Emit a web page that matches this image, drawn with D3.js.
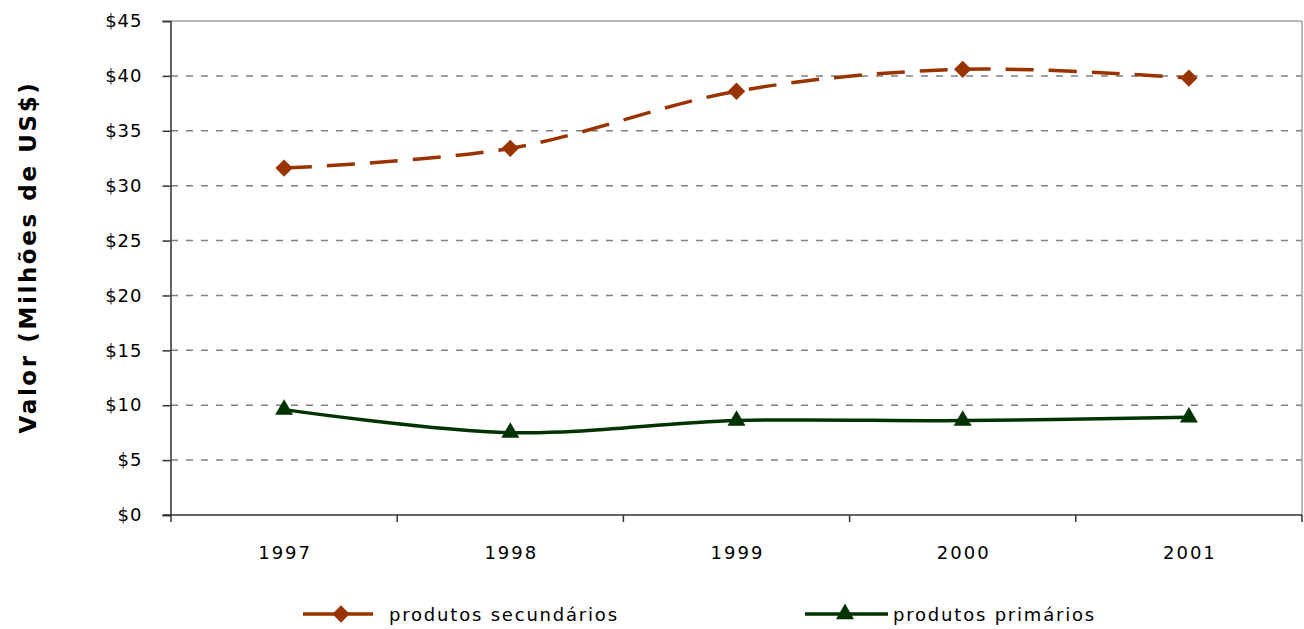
<!DOCTYPE html>
<html>
<head>
<meta charset="utf-8">
<script src="https://cdn.jsdelivr.net/npm/d3@7"></script>
<style>
  html, body { margin: 0; padding: 0; background: #fff; }
  svg { display: block; }
  text { font-family: "DejaVu Sans", sans-serif; fill: #000; }
</style>
</head>
<body>
<svg id="chart" width="1304" height="629"></svg>
<script>
const years = ["1997", "1998", "1999", "2000", "2001"];
const secundarios = [31.6, 33.4, 38.6, 40.6, 39.8];
const primarios = [9.6, 7.5, 8.6, 8.6, 8.9];
const yTicks = [0, 5, 10, 15, 20, 25, 30, 35, 40, 45];
const seriesNames = ["produtos secundários", "produtos primários"];
const yTitle = "Valor (Milhões de US$)";

(function () {
const svg = d3.select("#chart");
const pLeft = 171, pRight = 1302, pTop = 21, pBottom = 515;

const x = d3.scaleBand().domain(years).range([pLeft, pRight]).paddingInner(0).paddingOuter(0);
const y = d3.scaleLinear().domain([0, 45]).range([pBottom, pTop]);
const cx = d => x(d) + x.bandwidth() / 2;

// gridlines
svg.append("g").selectAll("line")
  .data(yTicks.filter(t => t > 0 && t < 45))
  .join("line")
  .attr("x1", pLeft).attr("x2", pRight)
  .attr("y1", d => y(d)).attr("y2", d => y(d))
  .attr("stroke", "#808080").attr("stroke-width", 1.5)
  .attr("stroke-dasharray", "7,8");

// top and right frame
svg.append("line").attr("x1", pLeft).attr("x2", pRight).attr("y1", y(45)).attr("y2", y(45))
  .attr("stroke", "#a0a0a0").attr("stroke-width", 1.5);
svg.append("line").attr("x1", pRight).attr("x2", pRight).attr("y1", pTop).attr("y2", pBottom)
  .attr("stroke", "#a0a0a0").attr("stroke-width", 1.5);

// y axis
const yAxis = d3.axisLeft(y).tickValues(yTicks).tickSize(8).tickPadding(20)
  .tickFormat(d => "$" + d);
const gy = svg.append("g").attr("transform", `translate(${pLeft - 0.5},0)`).call(yAxis);
gy.select(".domain").attr("stroke", "#333").attr("stroke-width", 1.5);
gy.selectAll(".tick line").attr("stroke", "#333").attr("stroke-width", 1.5);
gy.selectAll(".tick text").style("font-size", "18px").style("letter-spacing", "1px")
  .style("font-family", "DejaVu Sans").attr("fill", "#000");

// x axis
const xb = d3.scaleLinear().domain([0, years.length]).range([pLeft, pRight]);
svg.append("line").attr("x1", pLeft - 8).attr("x2", pRight).attr("y1", pBottom).attr("y2", pBottom)
  .attr("stroke", "#333").attr("stroke-width", 1.5);
svg.append("g").selectAll("line").data(d3.range(years.length + 1)).join("line")
  .attr("x1", d => xb(d)).attr("x2", d => xb(d))
  .attr("y1", pBottom).attr("y2", pBottom + 7)
  .attr("stroke", "#333").attr("stroke-width", 1.5);
svg.append("g").selectAll("text").data(years).join("text")
  .attr("x", d => cx(d) + 1).attr("y", 559)
  .attr("text-anchor", "middle")
  .style("font-size", "18px").style("letter-spacing", "2px")
  .text(d => d);

// y title
svg.append("text")
  .attr("transform", "translate(36,257) rotate(-90)")
  .attr("text-anchor", "middle")
  .style("font-size", "23px").style("font-weight", "bold").style("letter-spacing", "2.6px")
  .text(yTitle);

const line = d3.line().curve(d3.curveCardinal.tension(0))
  .x((d, i) => cx(years[i])).y(d => y(d));

const secColor = "#993300", priColor = "#003300";

svg.append("path").datum(secundarios).attr("d", line)
  .attr("fill", "none").attr("stroke", secColor).attr("stroke-width", 3.5)
  .attr("stroke-dasharray", "28,15");
svg.append("path").datum(primarios).attr("d", line)
  .attr("fill", "none").attr("stroke", priColor).attr("stroke-width", 3.5);

const diamond = d3.symbol().type(d3.symbolSquare).size(150);
svg.append("g").selectAll("path").data(secundarios).join("path")
  .attr("d", diamond())
  .attr("transform", (d, i) => `translate(${cx(years[i])},${y(d)}) rotate(45)`)
  .attr("fill", secColor);

const tri = d3.symbol().type(d3.symbolTriangle).size(140);
svg.append("g").selectAll("path").data(primarios).join("path")
  .attr("d", tri())
  .attr("transform", (d, i) => `translate(${cx(years[i])},${y(d)})`)
  .attr("fill", priColor);

// legend
const ly = 614;
const lg = svg.append("g");
lg.append("line").attr("x1", 303).attr("x2", 373).attr("y1", ly).attr("y2", ly)
  .attr("stroke", secColor).attr("stroke-width", 3.5);
lg.append("path").attr("d", diamond()).attr("transform", `translate(341,${ly}) rotate(45)`).attr("fill", secColor);
lg.append("text").attr("x", 389).attr("y", ly + 7).style("font-size", "18px").style("letter-spacing", "1.8px")
  .text(seriesNames[0]);
lg.append("line").attr("x1", 805).attr("x2", 888).attr("y1", ly).attr("y2", ly)
  .attr("stroke", priColor).attr("stroke-width", 3.5);
lg.append("path").attr("d", tri()).attr("transform", `translate(845,${ly})`).attr("fill", priColor);
lg.append("text").attr("x", 893).attr("y", ly + 7).style("font-size", "18px").style("letter-spacing", "1.8px")
  .text(seriesNames[1]);
})();
</script>
</body>
</html>
